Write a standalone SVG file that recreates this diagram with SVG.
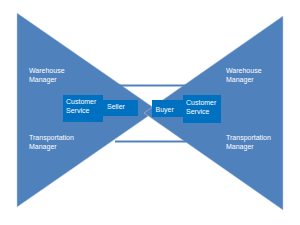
<svg xmlns="http://www.w3.org/2000/svg" width="300" height="225" viewBox="0 0 300 225">
<style>
.tri{fill:#4f81bd;stroke:#b9cbe4;stroke-width:0.5}
.box{fill:#0070c0}
.lbl{font-family:"Liberation Sans",Arial,sans-serif;font-size:7px;fill:#ffffff}
.con{stroke:#4f81bd;stroke-width:2;fill:none}
</style>
<rect width="300" height="225" fill="#ffffff"/>
<g id="left-triangle"><polygon class="tri" points="17,13 17,207 157,110"/></g>
<g id="right-triangle"><polygon class="tri" points="283,16 283,210 144,113"/></g>
<g id="connectors">
<line class="con" x1="115" y1="85.5" x2="186" y2="85.5"/>
<line class="con" x1="115" y1="141.5" x2="186" y2="141.5"/>
</g>
<g id="left-warehouse"><text class="lbl" x="29" y="73">Warehouse</text><text class="lbl" x="29" y="82">Manager</text></g>
<g id="left-transportation"><text class="lbl" x="29" y="139.5">Transportation</text><text class="lbl" x="29" y="148.5">Manager</text></g>
<g id="right-warehouse"><text class="lbl" x="226" y="73">Warehouse</text><text class="lbl" x="226" y="82">Manager</text></g>
<g id="right-transportation"><text class="lbl" x="226" y="139.5">Transportation</text><text class="lbl" x="226" y="148.5">Manager</text></g>
<g id="seller"><rect class="box" x="103" y="100" width="35" height="16"/><text class="lbl" x="107" y="108.5">Seller</text></g>
<g id="left-customer-service"><rect class="box" x="63" y="95" width="40" height="27"/><text class="lbl" x="66" y="104">Customer</text><text class="lbl" x="66" y="112.5">Service</text></g>
<g id="buyer"><rect class="box" x="152" y="100" width="31" height="17"/><text class="lbl" x="155.5" y="112">Buyer</text></g>
<g id="right-customer-service"><rect class="box" x="183" y="95" width="38" height="28"/><text class="lbl" x="186" y="105">Customer</text><text class="lbl" x="186" y="114">Service</text></g>
</svg>
